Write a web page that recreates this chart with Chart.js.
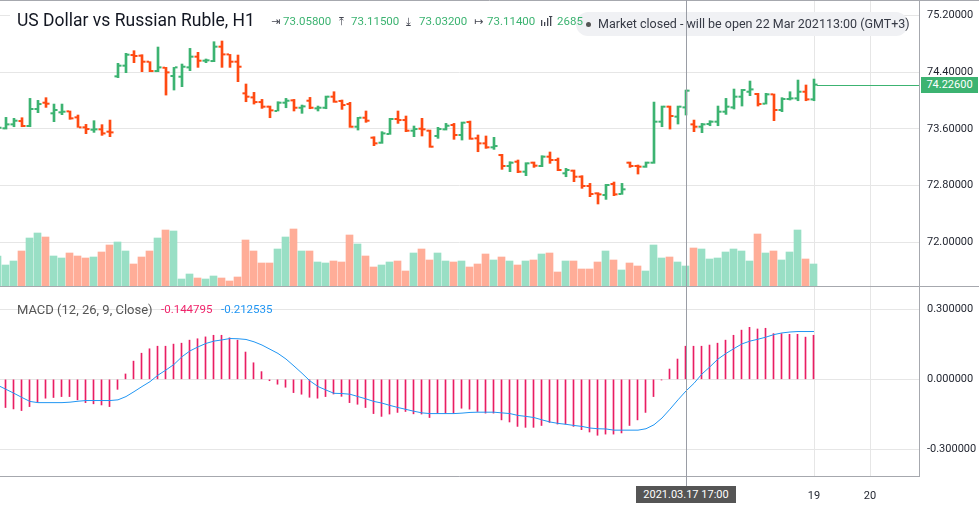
<!DOCTYPE html>
<html>
<head>
<meta charset="utf-8">
<script src="https://cdn.jsdelivr.net/npm/chart.js@4.4.1/dist/chart.umd.min.js"></script>
<style>
  html, body { margin: 0; padding: 0; background: #fff; }
  #wrap { position: relative; width: 979px; height: 511px; overflow: hidden; font-family: Roboto, "Noto Sans", sans-serif; }
  canvas { position: absolute; left: 0; }
  #c1 { top: 0; }
  #c2 { top: 287px; }
  .abs { position: absolute; white-space: nowrap; line-height: 1; }
  #hdrbg { left: 10px; top: 2px; width: 570px; height: 32px; background: #fff; }
  #title { left: 17px; top: 12px; font-size: 17.5px; color: #131722; }
  .ico { font-family: "DejaVu Sans", sans-serif; font-size: 11px; color: #434651; top: 16px; }
  .val { font-size: 11.5px; color: #3cb371; top: 16px; }
  #pill { left: 576px; top: 12px; width: 332px; height: 24px; border-radius: 12px; background: #f0f1f4; }
  #pilltxt { left: 598px; top: 17.5px; font-size: 12.5px; color: #363a45; }
  #dot { left: 586px; top: 21.5px; width: 5px; height: 5px; border-radius: 50%; background: #555; }
  #macdLbl { left: 17px; top: 302.5px; font-size: 13px; color: #555; }
  #macdV1 { left: 161px; top: 304px; font-size: 11.5px; color: #f0256b; }
  #macdV2 { left: 221px; top: 304px; font-size: 11.5px; color: #2196f3; }
  #cross { width: 1px; top: 0; height: 486px; background: #9a9da5; }
  #crossLbl { top: 486px; width: 100px; height: 17px; line-height: 17px; text-align: center; background: #555; color: #fff; font-size: 11px; }
  #lastLbl { left: 921px; width: 57px; height: 16px; line-height: 16px; text-align: center; background: #3cb371; color: #fff; font-size: 11px; }
</style>
</head>
<body>
<div id="wrap">
  <canvas id="c1" width="979" height="287"></canvas>
  <canvas id="c2" width="979" height="224"></canvas>

  <div id="hdrbg" class="abs"></div>
  <div id="pill" class="abs"></div>
  <div id="dot" class="abs"></div>
  <div id="pilltxt" class="abs">Market closed - will be open 22 Mar 202113:00 (GMT+3)</div>

  <div id="title" class="abs">US Dollar vs Russian Ruble, H1</div>
  <div class="abs ico" style="left:271px">⇥</div><div class="abs val" style="left:283px">73.05800</div>
  <div class="abs ico" style="left:339px">⤒</div><div class="abs val" style="left:351px">73.11500</div>
  <div class="abs ico" style="left:406px">⤓</div><div class="abs val" style="left:419px">73.03200</div>
  <div class="abs ico" style="left:474px">↦</div><div class="abs val" style="left:487px">73.11400</div>
  <svg class="abs" style="left:541px;top:16px" width="14" height="10">
    <rect x="0" y="4" width="1.3" height="6" fill="#434651"/><rect x="3" y="6" width="1.3" height="4" fill="#434651"/>
    <rect x="6" y="2" width="1.3" height="8" fill="#434651"/><rect x="9" y="0" width="1.3" height="10" fill="#434651"/>
    <rect x="8" y="0" width="3.3" height="1" fill="#434651"/>
  </svg>
  <div class="abs val" style="left:557px">2685</div>

  <div id="macdLbl" class="abs">MACD (12, 26, 9, Close)</div>
  <div id="macdV1" class="abs">-0.144795</div>
  <div id="macdV2" class="abs">-0.212535</div>

  <div id="cross" class="abs"></div>
  <div id="crossLbl" class="abs"></div>
  <div id="lastLbl" class="abs"></div>
</div>

<script>
// ---- values (bar index -1 is cut by the left edge) ----
var firstIndex = -1;

var opens = [
  73.600, 73.609, 73.665, 73.712, 73.642, 73.882, 73.971, 73.821, 73.835, 73.849,
  73.764, 73.623, 73.590, 73.595, 73.562, 74.343, 74.494, 74.644, 74.635, 74.550,
  74.418, 74.465, 74.348, 74.338, 74.470, 74.621, 74.564, 74.559, 74.762, 74.653,
  74.550, 74.103, 74.046, 73.980, 73.915, 73.854, 73.971, 74.004, 73.900, 73.999,
  73.891, 73.900, 74.056, 73.995, 73.952, 73.632, 73.759, 73.477, 73.406, 73.529,
  73.741, 73.726, 73.576, 73.604, 73.576, 73.501, 73.595, 73.656, 73.515, 73.698,
  73.468, 73.397, 73.341, 73.232, 73.077, 73.138, 72.997, 73.124, 73.077, 73.209,
  73.162, 72.974, 73.011, 72.926, 72.795, 72.691, 72.668, 72.823, 72.682, 73.124,
  73.077, 73.068, 73.124, 73.703, 73.915, 73.774, 73.905, 73.665, 73.632, 73.670,
  73.703, 73.844, 73.905, 74.056, 74.126, 74.094, 73.957, 74.089, 73.868, 74.023,
  74.032, 74.126, 74.018
];
var highs = [
  73.640, 73.764, 73.750, 73.759, 74.032, 74.004, 74.042, 73.952, 73.952, 73.854,
  73.797, 73.665, 73.717, 73.661, 73.726, 74.527, 74.668, 74.705, 74.649, 74.550,
  74.757, 74.470, 74.470, 74.517, 74.738, 74.682, 74.588, 74.832, 74.842, 74.653,
  74.644, 74.235, 74.117, 74.018, 73.924, 73.985, 74.032, 74.018, 73.938, 74.046,
  73.924, 74.065, 74.126, 74.009, 73.976, 73.764, 73.854, 73.491, 73.562, 73.750,
  73.854, 73.783, 73.642, 73.750, 73.585, 73.623, 73.679, 73.679, 73.698, 73.712,
  73.515, 73.501, 73.482, 73.242, 73.138, 73.162, 73.124, 73.134, 73.223, 73.275,
  73.190, 73.044, 73.021, 72.941, 72.832, 72.701, 72.818, 72.851, 72.832, 73.134,
  73.091, 73.134, 73.980, 73.924, 73.924, 73.924, 74.150, 73.726, 73.679, 73.717,
  73.924, 74.032, 74.164, 74.159, 74.277, 74.103, 74.103, 74.094, 74.042, 74.126,
  74.291, 74.221, 74.305
];
var lows = [
  73.590, 73.599, 73.632, 73.632, 73.632, 73.830, 73.905, 73.703, 73.802, 73.736,
  73.623, 73.534, 73.552, 73.510, 73.491, 74.324, 74.395, 74.536, 74.409, 74.409,
  74.409, 74.079, 74.150, 74.197, 74.423, 74.470, 74.536, 74.550, 74.470, 74.470,
  74.268, 73.985, 73.952, 73.891, 73.759, 73.854, 73.900, 73.854, 73.821, 73.886,
  73.854, 73.886, 73.976, 73.877, 73.623, 73.585, 73.694, 73.364, 73.397, 73.524,
  73.679, 73.562, 73.491, 73.501, 73.341, 73.468, 73.585, 73.454, 73.444, 73.454,
  73.279, 73.326, 73.312, 73.030, 72.997, 72.983, 72.941, 73.058, 73.068, 73.115,
  73.011, 72.926, 72.856, 72.762, 72.644, 72.541, 72.606, 72.658, 72.677, 73.058,
  72.964, 73.058, 73.115, 73.632, 73.599, 73.670, 73.797, 73.562, 73.548, 73.646,
  73.646, 73.806, 73.882, 73.924, 74.070, 73.924, 73.952, 73.717, 73.844, 74.009,
  73.999, 73.999, 73.999
];
var closes = [
  73.618, 73.665, 73.717, 73.642, 73.882, 73.952, 73.957, 73.868, 73.844, 73.750,
  73.623, 73.599, 73.595, 73.538, 73.552, 74.494, 74.649, 74.630, 74.550, 74.418,
  74.470, 74.399, 74.470, 74.479, 74.621, 74.564, 74.569, 74.762, 74.653, 74.550,
  74.479, 74.056, 73.980, 73.915, 73.863, 73.971, 73.999, 73.900, 73.919, 73.900,
  73.900, 74.056, 73.985, 73.938, 73.632, 73.759, 73.717, 73.397, 73.538, 73.741,
  73.726, 73.576, 73.599, 73.595, 73.350, 73.599, 73.646, 73.515, 73.689, 73.463,
  73.397, 73.341, 73.359, 73.077, 73.124, 72.997, 73.115, 73.082, 73.209, 73.162,
  73.021, 73.021, 72.926, 72.795, 72.682, 72.677, 72.809, 72.677, 72.748, 73.077,
  73.068, 73.124, 73.703, 73.915, 73.783, 73.915, 74.141, 73.632, 73.665, 73.703,
  73.844, 73.915, 74.056, 74.150, 74.159, 73.952, 74.089, 73.868, 74.023, 74.032,
  74.126, 74.018, 74.226
];
var volumes = [
  900, 630, 750, 1050, 1440, 1590, 1470, 900, 840, 990,
  900, 840, 870, 1020, 1230, 1320, 1050, 660, 870, 1050,
  1440, 1680, 1650, 210, 360, 240, 210, 300, 240, 150,
  270, 1380, 1050, 690, 690, 1110, 1470, 1710, 1050, 1050,
  720, 690, 750, 720, 1530, 1260, 900, 570, 630, 720,
  750, 450, 990, 1110, 780, 990, 750, 720, 750, 570,
  660, 960, 780, 870, 750, 630, 750, 780, 960, 990,
  420, 750, 750, 510, 510, 720, 1050, 780, 480, 690,
  600, 450, 1230, 840, 870, 720, 600, 1140, 1110, 810,
  840, 1020, 1110, 1050, 750, 1560, 990, 1050, 780, 1020,
  1680, 810, 660
];
var macdHist = [
  -0.110, -0.121, -0.127, -0.134, -0.117, -0.098, -0.081, -0.078, -0.074, -0.074,
  -0.088, -0.100, -0.105, -0.110, -0.117, -0.043, 0.023, 0.078, 0.112, 0.131,
  0.142, 0.142, 0.151, 0.155, 0.168, 0.174, 0.182, 0.189, 0.189, 0.178,
  0.168, 0.117, 0.071, 0.033, -0.006, -0.021, -0.034, -0.057, -0.064, -0.077,
  -0.081, -0.074, -0.063, -0.073, -0.100, -0.107, -0.121, -0.147, -0.159, -0.149,
  -0.142, -0.138, -0.148, -0.149, -0.164, -0.145, -0.145, -0.145, -0.124, -0.128,
  -0.138, -0.145, -0.145, -0.174, -0.183, -0.202, -0.206, -0.206, -0.198, -0.185,
  -0.192, -0.192, -0.202, -0.216, -0.226, -0.240, -0.235, -0.235, -0.230, -0.198,
  -0.174, -0.142, -0.074, -0.003, 0.044, 0.087, 0.142, 0.142, 0.142, 0.147,
  0.155, 0.168, 0.189, 0.211, 0.223, 0.216, 0.219, 0.196, 0.196, 0.193,
  0.193, 0.181, 0.189
];
var macdSignal = [
  -0.026, -0.043, -0.060, -0.078, -0.095, -0.100, -0.100, -0.100, -0.100, -0.098,
  -0.094, -0.091, -0.091, -0.091, -0.091, -0.088, -0.074, -0.053, -0.031, -0.010,
  0.018, 0.040, 0.064, 0.097, 0.122, 0.139, 0.154, 0.164, 0.169, 0.175,
  0.174, 0.171, 0.161, 0.147, 0.129, 0.111, 0.087, 0.057, 0.026, -0.007,
  -0.031, -0.046, -0.060, -0.061, -0.064, -0.074, -0.084, -0.095, -0.102, -0.112,
  -0.121, -0.129, -0.137, -0.144, -0.147, -0.147, -0.147, -0.147, -0.145, -0.142,
  -0.141, -0.141, -0.141, -0.144, -0.147, -0.155, -0.159, -0.164, -0.174, -0.183,
  -0.189, -0.193, -0.198, -0.202, -0.209, -0.212, -0.213, -0.218, -0.218, -0.218,
  -0.218, -0.212, -0.195, -0.166, -0.128, -0.088, -0.050, -0.017, 0.023, 0.054,
  0.087, 0.111, 0.132, 0.152, 0.164, 0.172, 0.181, 0.192, 0.199, 0.203,
  0.205, 0.205, 0.205
];

var priceTicks = [72.0, 72.8, 73.6, 74.4, 75.2];
var macdTicks = [-0.3, 0, 0.3];
var timeTickIndex = [101, 108];
var timeTickLabels = ['19', '20'];
var crosshairIndex = 85;
var crosshairLabel = '2021.03.17 17:00';

// ---- look ----
var UP = '#3cb371', DOWN = '#ff4a12';
var VOL_UP = '#99dfc5', VOL_DOWN = '#ffad98';
var HIST = '#e91e63', SIGNAL = '#2196f3';
var GRID = '#e6e6e6', FRAME = '#a6a8ae', TEXT = '#1e222d';
var X_MIN = -0.75, X_MAX = 114.125;   // 8 px per bar, plot 919 px wide
var HALF = 0.0625;                    // half a pixel, for the 7px and 1px columns
var TICK_OFF = 0.28;

Chart.defaults.font.family = 'Roboto, "Noto Sans", sans-serif';
Chart.defaults.font.size = 11;
Chart.defaults.color = TEXT;

var idx = opens.map(function(_, i){ return firstIndex + i; });
var isUp = opens.map(function(o, i){ return closes[i] >= o; });
var barColors = isUp.map(function(u){ return u ? UP : DOWN; });
var volColors = isUp.map(function(u){ return u ? VOL_UP : VOL_DOWN; });

function noPad(s){ s.paddingTop = 0; s.paddingBottom = 0; s.paddingLeft = 0; s.paddingRight = 0; }

function timeAxis(showLabels, shift){
  return {
    type: 'linear', axis: 'x', position: 'bottom',
    min: X_MIN + shift, max: X_MAX + shift, offset: false, bounds: 'data',
    display: shift === 0,
    grid: { color: GRID, drawTicks: false, offset: false },
    border: { display: false },
    afterBuildTicks: function(s){ s.ticks = timeTickIndex.map(function(v){ return { value: v }; }); },
    ticks: {
      display: showLabels, autoSkip: false, maxRotation: 0, padding: 13, color: TEXT,
      callback: function(v){ var j = timeTickIndex.indexOf(v); return j < 0 ? '' : timeTickLabels[j]; }
    },
    afterFit: function(s){ s.height = showLabels ? 34 : 0; noPad(s); }
  };
}

function valueAxis(min, max, ticks, digits){
  return {
    type: 'linear', position: 'right', min: min, max: max, bounds: 'data',
    grid: { color: GRID, drawTicks: false },
    border: { display: false },
    afterBuildTicks: function(s){ s.ticks = ticks.map(function(v){ return { value: v }; }); },
    ticks: { padding: 8, color: TEXT, callback: function(v){ return Number(v).toFixed(digits); } },
    afterFit: function(s){ s.width = 60; noPad(s); }
  };
}

var frameTop = {
  id: 'frameTop',
  afterDraw: function(chart){
    var ctx = chart.ctx, a = chart.chartArea;
    var y = chart.scales.y.getPixelForValue(closes[closes.length - 1]);
    var x = chart.scales.x.getPixelForValue(idx[idx.length - 1]);
    ctx.save();
    ctx.lineWidth = 1;
    ctx.strokeStyle = UP;
    ctx.beginPath();
    ctx.moveTo(x + 3, Math.round(y) + 0.5); ctx.lineTo(a.right, Math.round(y) + 0.5);
    ctx.stroke();
    ctx.strokeStyle = FRAME;
    ctx.beginPath();
    ctx.moveTo(0, 0.5); ctx.lineTo(chart.width, 0.5);
    ctx.moveTo(0, a.bottom - 0.5); ctx.lineTo(chart.width, a.bottom - 0.5);
    ctx.moveTo(a.right + 0.5, 0); ctx.lineTo(a.right + 0.5, a.bottom);
    ctx.stroke();
    ctx.restore();
  }
};

var frameBottom = {
  id: 'frameBottom',
  afterDraw: function(chart){
    var ctx = chart.ctx, a = chart.chartArea;
    ctx.save();
    ctx.lineWidth = 1;
    ctx.strokeStyle = FRAME;
    ctx.beginPath();
    ctx.moveTo(a.right + 0.5, 0); ctx.lineTo(a.right + 0.5, a.bottom);
    ctx.moveTo(0, a.bottom - 0.5); ctx.lineTo(a.right + 0.5, a.bottom - 0.5);
    ctx.stroke();
    ctx.restore();
  }
};

var common = {
  responsive: false, animation: false, events: [], devicePixelRatio: 1,
  layout: { autoPadding: false, padding: 0 },
  plugins: { legend: { display: false }, tooltip: { enabled: false } }
};

var priceChart = new Chart(document.getElementById('c1'), {
  type: 'bar',
  data: {
    datasets: [
      {
        type: 'bar', xAxisID: 'xv', yAxisID: 'v', order: 5, grouped: false, barThickness: 7,
        data: idx.map(function(x, i){ return { x: x, y: volumes[i] }; }),
        backgroundColor: volColors
      },
      {
        type: 'bar', xAxisID: 'x', yAxisID: 'y', order: 3, grouped: false, barThickness: 2,
        data: idx.map(function(x, i){ return { x: x, y: [lows[i], highs[i]] }; }),
        backgroundColor: barColors
      },
      {
        type: 'scatter', xAxisID: 'x', yAxisID: 'y', order: 2,
        data: idx.map(function(x, i){ return { x: x - TICK_OFF, y: opens[i] }; }),
        pointStyle: 'line', pointRadius: 1.3, pointBorderWidth: 2, pointBorderColor: barColors
      },
      {
        type: 'scatter', xAxisID: 'x', yAxisID: 'y', order: 1,
        data: idx.map(function(x, i){ return { x: x + TICK_OFF, y: closes[i] }; }),
        pointStyle: 'line', pointRadius: 1.3, pointBorderWidth: 2, pointBorderColor: barColors
      }
    ]
  },
  options: Object.assign({}, common, {
    scales: {
      x: timeAxis(false, 0),
      xv: timeAxis(false, HALF),
      y: valueAxis(71.369, 75.421, priceTicks, 5),
      v: { type: 'linear', axis: 'y', position: 'right', display: false, min: -30, max: 8580 }
    }
  }),
  plugins: [frameTop]
});

var macdChart = new Chart(document.getElementById('c2'), {
  type: 'bar',
  data: {
    datasets: [
      {
        type: 'line', xAxisID: 'x', yAxisID: 'y', order: 1,
        data: idx.map(function(x, i){ return { x: x, y: macdSignal[i] }; }),
        borderColor: SIGNAL, borderWidth: 1, pointRadius: 0, tension: 0, fill: false
      },
      {
        type: 'bar', xAxisID: 'xh', yAxisID: 'y', order: 2, grouped: false, barThickness: 1,
        data: idx.map(function(x, i){ return { x: x, y: macdHist[i] }; }),
        backgroundColor: HIST
      }
    ]
  },
  options: Object.assign({}, common, {
    scales: {
      x: timeAxis(true, 0),
      xh: timeAxis(false, HALF),
      y: valueAxis(-0.419, 0.396, macdTicks, 6)
    }
  }),
  plugins: [frameBottom]
});

// crosshair and last-price marker placed from the chart scales
var cx = Math.floor(priceChart.scales.x.getPixelForValue(crosshairIndex));
var cross = document.getElementById('cross');
cross.style.left = cx + 'px';
var crossLbl = document.getElementById('crossLbl');
crossLbl.textContent = crosshairLabel;
crossLbl.style.left = (cx - 50) + 'px';

var lastY = Math.round(priceChart.scales.y.getPixelForValue(closes[closes.length - 1]));
var lastLbl = document.getElementById('lastLbl');
lastLbl.textContent = closes[closes.length - 1].toFixed(5);
lastLbl.style.top = (lastY - 8) + 'px';
lastLbl.style.background = isUp[isUp.length - 1] ? UP : DOWN;
</script>
</body>
</html>
